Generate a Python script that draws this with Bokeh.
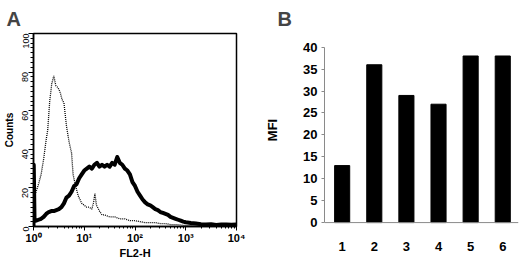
import math
from bokeh.plotting import figure
from bokeh.layouts import row
from bokeh.models import Range1d, FixedTicker, Span
from bokeh.embed import file_html
from bokeh.resources import INLINE

# ---------------- Panel A data (FL2-H histogram, log10 of channel value) -------------
ctrl_log = [0.00, 0.01, 0.05, 0.10, 0.15, 0.20, 0.25, 0.28, 0.32, 0.36,
            0.40, 0.44, 0.48, 0.52, 0.56, 0.60, 0.65, 0.70, 0.75, 0.78,
            0.82, 0.88, 0.95, 1.00, 1.05, 1.10, 1.15, 1.18, 1.21, 1.24,
            1.30, 1.35, 1.40, 1.50, 1.60, 1.70, 1.80, 1.90, 2.00, 2.10,
            2.20, 2.30, 2.40, 2.50, 2.60, 2.70, 2.80, 2.90, 3.00, 3.20, 3.40]
ctrl_counts = [0, 15, 18, 22, 27, 35, 45, 50, 65, 74,
               78, 73, 72, 70, 66, 64, 52, 44, 38, 27,
               22, 16, 12, 11, 10, 10, 9, 12, 17, 11,
               8, 6, 6, 5, 5, 4, 4, 3, 3, 2.5,
               2, 2, 2, 1.5, 1.5, 1, 1, 0.8, 0.5, 0.3, 0]

stim_log = [0.00, 0.005, 0.02, 0.05, 0.10, 0.15, 0.20, 0.25, 0.30, 0.35,
            0.40, 0.45, 0.50, 0.55, 0.60, 0.65, 0.70, 0.75, 0.80, 0.85,
            0.90, 0.95, 1.00, 1.05, 1.10, 1.15, 1.20, 1.25, 1.30, 1.35,
            1.40, 1.45, 1.50, 1.55, 1.60, 1.65, 1.70, 1.75, 1.80, 1.85,
            1.90, 1.95, 2.00, 2.05, 2.10, 2.15, 2.20, 2.25, 2.30, 2.35,
            2.40, 2.45, 2.50, 2.55, 2.60, 2.65, 2.70, 2.75, 2.80, 2.85,
            2.90, 2.95, 3.00, 3.10, 3.20, 3.30, 3.40, 3.50, 3.60, 3.70,
            3.80, 3.90, 4.00]
stim_counts = [0, 32, 4, 3, 3.5, 4, 5, 6.5, 7.5, 8,
               8, 8.5, 9, 10, 12, 15, 16, 18, 21, 22,
               25, 27, 29, 30, 31, 30, 32, 33, 31, 32,
               31, 32, 31, 33, 32, 36, 33, 32, 30, 29,
               27, 23, 21, 18, 16, 14, 12.5, 11.5, 11, 10,
               9, 8.5, 7.5, 7, 6.5, 6, 5, 4.5, 4, 3.5,
               3, 2.5, 2.2, 1.8, 1.5, 1.2, 1, 1.2, 0.8, 1,
               1.1, 0.9, 1]

a_xticks = [1, 10, 100, 1000, 10000]
a_xtick_labels = ["10\u2070", "10\u00b9", "10\u00b2", "10\u00b3", "10\u2074"]
a_yticks = [0, 20, 40, 60, 80, 100]

# ---------------- Panel B data ----------------
samples = [1, 2, 3, 4, 5, 6]
sample_labels = ["1", "2", "3", "4", "5", "6"]
mfi = [13, 36, 29, 27, 38, 38]
b_yticks = [0, 5, 10, 15, 20, 25, 30, 35, 40]

FONT = "Liberation Sans"

# ---------------- Panel A ----------------
pa = figure(width=262, height=261, x_axis_type="log",
            x_range=Range1d(1, 1e4), y_range=Range1d(0, 100),
            output_backend="svg", toolbar_location=None,
            min_border_left=32, min_border_right=26,
            min_border_top=33, min_border_bottom=31)
pa.xgrid.visible = False
pa.ygrid.visible = False
pa.outline_line_color = "black"
pa.outline_line_width = 1.5
pa.outline_line_alpha = 1.0

pa.title.text = "A"
pa.title.text_font = FONT
pa.title.text_font_size = "20px"
pa.title.text_font_style = "bold"
pa.title.align = "left"
pa.title.offset = -27
pa.title.standoff = 8

pa.line([10 ** d for d in ctrl_log], ctrl_counts, line_color="black",
        line_width=1.3, line_dash="1 1")
pa.line([10 ** d for d in stim_log], stim_counts, line_color="black",
        line_width=4, line_join="round")

xa = pa.xaxis[0]
xa.ticker = FixedTicker(ticks=a_xticks,
                        minor_ticks=[m * 10 ** k for k in range(4) for m in range(2, 10)])
xa.major_label_overrides = {t: lab for t, lab in zip(a_xticks, a_xtick_labels)}
xa.axis_line_color = "black"
xa.axis_line_width = 1.5
xa.major_tick_out = 4
xa.major_tick_in = 0
xa.minor_tick_out = 2
xa.minor_tick_in = 0
xa.major_label_standoff = 1
xa.major_label_text_font = FONT
xa.major_label_text_font_style = "bold"
xa.major_label_text_font_size = "11px"
xa.major_label_text_color = "black"
xa.axis_label = "FL2-H"
xa.axis_label_standoff = 0
xa.axis_label_text_font = FONT
xa.axis_label_text_font_style = "bold"
xa.axis_label_text_font_size = "11px"
xa.axis_label_text_color = "black"

ya = pa.yaxis[0]
ya.ticker = FixedTicker(ticks=a_yticks, minor_ticks=[i * 2.5 for i in range(41)])
ya.axis_line_color = "black"
ya.axis_line_width = 1.5
ya.major_tick_out = 5
ya.major_tick_in = 0
ya.minor_tick_out = 3
ya.minor_tick_in = 0
ya.major_label_orientation = math.pi / 2
ya.major_label_standoff = 3
ya.major_label_text_font = FONT
ya.major_label_text_font_size = "9px"
ya.major_label_text_color = "black"
ya.axis_label = "Counts"
ya.axis_label_standoff = 2
ya.axis_label_text_font = FONT
ya.axis_label_text_font_style = "bold"
ya.axis_label_text_font_size = "10px"
ya.axis_label_text_color = "black"

# ---------------- Panel B ----------------
pb = figure(width=258, height=261,
            x_range=Range1d(0.45, 6.49), y_range=Range1d(-0.894, 43.13),
            output_backend="svg", toolbar_location=None,
            min_border_left=58, min_border_right=2,
            min_border_top=33, min_border_bottom=31)
pb.xgrid.visible = False
pb.ygrid.visible = False
pb.outline_line_color = None

pb.title.text = "B"
pb.title.text_font = FONT
pb.title.text_font_size = "20px"
pb.title.text_font_style = "bold"
pb.title.align = "left"
pb.title.offset = -47
pb.title.standoff = 8

pb.vbar(x=samples, top=mfi, width=0.47, color="black")
pb.add_layout(Span(location=0, dimension="width", line_color="#8a8a8a", line_width=1))

xb = pb.xaxis[0]
xb.ticker = FixedTicker(ticks=samples)
xb.major_label_overrides = {s: lab for s, lab in zip(samples, sample_labels)}
xb.axis_line_color = None
xb.major_tick_line_color = None
xb.minor_tick_line_color = None
xb.major_label_standoff = 9
xb.major_label_text_font = FONT
xb.major_label_text_font_style = "bold"
xb.major_label_text_font_size = "13px"
xb.major_label_text_color = "black"

yb = pb.yaxis[0]
yb.bounds = (0, 40)
yb.ticker = FixedTicker(ticks=b_yticks)
yb.axis_line_color = "#8a8a8a"
yb.major_tick_line_color = "#8a8a8a"
yb.major_tick_out = 3
yb.major_tick_in = 0
yb.minor_tick_line_color = None
yb.major_label_standoff = 4
yb.major_label_text_font = FONT
yb.major_label_text_font_style = "bold"
yb.major_label_text_font_size = "13px"
yb.major_label_text_color = "black"
yb.axis_label = "MFI"
yb.axis_label_standoff = 20
yb.axis_label_text_font = FONT
yb.axis_label_text_font_style = "bold"
yb.axis_label_text_font_size = "13px"
yb.axis_label_text_color = "black"

layout = row(pa, pb)
open("out.html", "w").write(file_html(layout, INLINE))
